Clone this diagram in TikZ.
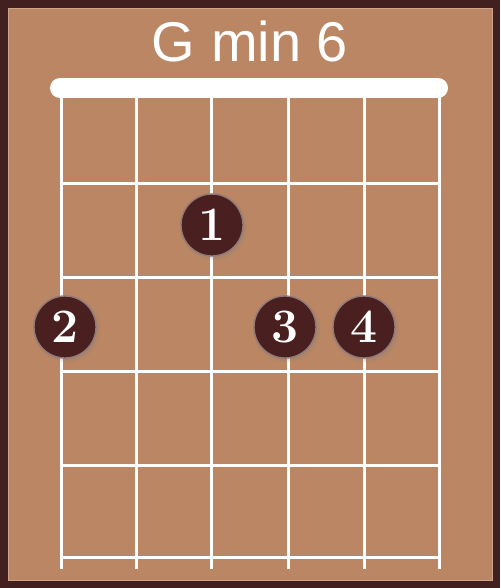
\documentclass[tikz,border=0pt]{standalone}
\usepackage{fontspec}
\newfontfamily\titlefont{Liberation Sans}
\usetikzlibrary{shadows}
\definecolor{frame}{HTML}{42201F}
\definecolor{board}{HTML}{BA8663}
\definecolor{dot}{HTML}{4A1F1F}
\tikzset{str/.style={draw=white,line width=3pt},
 nut/.style={draw=white,line width=20pt,line cap=round},
 fin/.style={circle,fill=dot,draw=dot!60!white,line width=1.4pt,minimum size=62pt,inner sep=0pt,text=white,
  font=\fontsize{48}{48}\selectfont\bfseries,circular drop shadow={shadow xshift=1pt,shadow yshift=-1.5pt,opacity=.35}}}
\begin{document}
\begin{tikzpicture}[x=1pt,y=-1pt]
\fill[frame](0,0)rectangle(500,588);
\filldraw[fill=board,draw=board!75!white,line width=.8pt](8,8)rectangle(492,580);
\node[text=white,anchor=base,inner sep=0pt,font=\titlefont\fontsize{56}{56}\selectfont](t)at(250,62){G min 6};
\foreach\x in {61,136,211,288,364,439}{\draw[str](\x,88)--(\x,569);}
\foreach\y in {183,277,371,465,557}{\draw[str](61,\y)--(439,\y);}
\draw[nut](60,88)--(438,88);
\node[fin](f1)at(212,225){1};\node[fin](f2)at(65,327){2};
\node[fin](f3)at(285,327){3};\node[fin](f4)at(364,327){4};
\end{tikzpicture}
\end{document}
